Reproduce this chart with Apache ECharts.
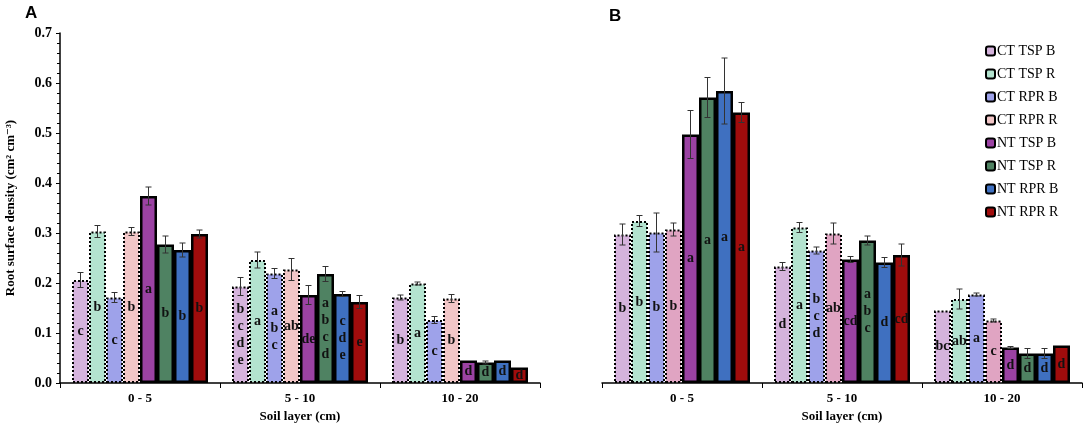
<!DOCTYPE html>
<html style="height:100%;">
<head>
    <meta charset="utf-8">
    <script src="https://cdn.jsdelivr.net/npm/echarts@6/dist/echarts.min.js"></script>
</head>
<body style="height:100%;margin:0;">
    <div id="main" style="width:1084px;height:428px;"></div>
<script>
    // categories and series names
    var layers = ['0 - 5', '5 - 10', '10 - 20'];
    var names = ['CT TSP B', 'CT TSP R', 'CT RPR B', 'CT RPR R', 'NT TSP B', 'NT TSP R', 'NT RPR B', 'NT RPR R'];
    var yTicks = ['0.0', '0.1', '0.2', '0.3', '0.4', '0.5', '0.6', '0.7'];

    // panel A: mean values, one row per treatment, one column per layer
    var valuesA = [
        [0.206, 0.193, 0.171],
        [0.303, 0.246, 0.199],
        [0.171, 0.219, 0.126],
        [0.303, 0.227, 0.169],
        [0.374, 0.176, 0.045],
        [0.277, 0.218, 0.041],
        [0.266, 0.178, 0.045],
        [0.298, 0.162, 0.031]
    ];
    var errorsA = [
        [0.015, 0.018, 0.005],
        [0.012, 0.016, 0.003],
        [0.010, 0.010, 0.007],
        [0.008, 0.022, 0.008],
        [0.018, 0.019, 0.000],
        [0.017, 0.015, 0.003],
        [0.014, 0.005, 0.000],
        [0.008, 0.013, 0.000]
    ];
    var lettersA = [
        ['c', 'b\nc\nd\ne', 'b'],
        ['b', 'a', 'a'],
        ['c', 'a\nb\nc', 'c'],
        ['b', 'ab', 'b'],
        ['a', 'de', 'd'],
        ['b', 'a\nb\nc\nd', 'd'],
        ['b', 'c\nd\ne', 'd'],
        ['b', 'e', 'd']
    ];

    // panel B
    var valuesB = [
        [0.297, 0.233, 0.145],
        [0.324, 0.311, 0.168],
        [0.301, 0.265, 0.177],
        [0.307, 0.299, 0.125],
        [0.497, 0.247, 0.071],
        [0.571, 0.285, 0.059],
        [0.584, 0.241, 0.059],
        [0.541, 0.256, 0.075]
    ];
    var errorsB = [
        [0.021, 0.008, 0.000],
        [0.011, 0.010, 0.020],
        [0.039, 0.007, 0.003],
        [0.013, 0.021, 0.003],
        [0.048, 0.006, 0.002],
        [0.040, 0.009, 0.010],
        [0.066, 0.010, 0.010],
        [0.020, 0.022, 0.000]
    ];
    var lettersB = [
        ['b', 'd', 'bc'],
        ['b', 'a', 'ab'],
        ['b', 'b\nc\nd', 'a'],
        ['b', 'ab', 'c'],
        ['a', 'cd', 'd'],
        ['a', 'a\nb\nc', 'd'],
        ['a', 'd', 'd'],
        ['a', 'cd', 'd']
    ];

    var colorsA = ['#d5b3dc', '#b3e3cf', '#9ea2ea', '#f2c6c7', '#9b42a3', '#4f8262', '#3f70c0', '#a00c0c'];
    var colorsB = ['#d5b3dc', '#b3e3cf', '#9ea2ea', '#e0a4c2', '#9b42a3', '#4f8262', '#3f70c0', '#a00c0c'];

    var serif = '"Liberation Serif", "DejaVu Serif", serif';
    var catGap = 0.15;

    function barSeries(axisIdx, values, letters, colors) {
        return names.map(function (n, s) {
            var ct = s < 4;
            return {
                name: n,
                type: 'bar',
                xAxisIndex: axisIdx,
                yAxisIndex: axisIdx,
                barGap: '0%',
                barCategoryGap: (catGap * 100) + '%',
                itemStyle: {
                    color: colors[s],
                    borderColor: '#000',
                    borderWidth: ct ? 2 : 2.5,
                    borderType: ct ? 'dotted' : 'solid'
                },
                label: {
                    show: true,
                    position: 'inside',
                    color: '#111',
                    fontFamily: serif,
                    fontWeight: 'bold',
                    fontSize: 14,
                    lineHeight: 17
                },
                data: values[s].map(function (v, c) {
                    return { value: v, label: { formatter: letters[s][c] } };
                }),
                z: 2
            };
        });
    }

    function errorSeries(axisIdx, values, errors) {
        var data = [];
        for (var s = 0; s < names.length; s++) {
            for (var c = 0; c < layers.length; c++) {
                data.push([c, values[s][c], errors[s][c], s]);
            }
        }
        return {
            type: 'custom',
            xAxisIndex: axisIdx,
            yAxisIndex: axisIdx,
            silent: true,
            z: 5,
            data: data,
            renderItem: function (params, api) {
                var c = api.value(0), v = api.value(1), e = api.value(2), s = api.value(3);
                if (!e) return;
                var catW = api.size([1, 0])[0];
                var bw = catW * (1 - catGap) / names.length;
                var center = api.coord([c, v]);
                var x = center[0] - catW * (1 - catGap) / 2 + bw * (s + 0.5);
                var yHi = api.coord([c, v + e])[1];
                var yLo = api.coord([c, v - e])[1];
                var st = { stroke: '#333', lineWidth: 1 };
                return {
                    type: 'group',
                    children: [
                        { type: 'line', shape: { x1: x, y1: yHi, x2: x, y2: yLo }, style: st },
                        { type: 'line', shape: { x1: x - 3, y1: yHi, x2: x + 3, y2: yHi }, style: st },
                        { type: 'line', shape: { x1: x - 3, y1: yLo, x2: x + 3, y2: yLo }, style: st }
                    ]
                };
            }
        };
    }

    function xAxis(gridIdx) {
        return {
            type: 'category',
            gridIndex: gridIdx,
            data: layers,
            name: 'Soil layer (cm)',
            nameLocation: 'middle',
            nameGap: 27,
            nameTextStyle: { fontFamily: serif, fontWeight: 'bold', fontSize: 13, color: '#000' },
            axisLine: { lineStyle: { color: '#000', width: 1.5 } },
            axisTick: { show: true, length: 5, lineStyle: { color: '#000' } },
            axisLabel: { fontFamily: serif, fontWeight: 'bold', fontSize: 13, color: '#000', margin: 9 }
        };
    }

    var option = {
        backgroundColor: '#fff',
        animation: false,
        title: [
            { text: 'A', left: 20, top: 0, textStyle: { fontFamily: 'Liberation Sans, Arial', fontWeight: 'bold', fontSize: 17, color: '#000' } },
            { text: 'B', left: 604, top: 3, textStyle: { fontFamily: 'Liberation Sans, Arial', fontWeight: 'bold', fontSize: 17, color: '#000' } }
        ],
        legend: {
            orient: 'vertical',
            left: 980,
            top: 39,
            itemWidth: 9,
            itemHeight: 9,
            itemGap: 9,
            data: names,
            textStyle: { fontFamily: serif, fontSize: 14, color: '#000', padding: [0, 0, 0, -3] }
        },
        grid: [
            { left: 60, right: 544, top: 33, bottom: 45 },
            { left: 602, right: 2, top: 33, bottom: 45 }
        ],
        xAxis: [xAxis(0), xAxis(1)],
        yAxis: [
            {
                type: 'value',
                gridIndex: 0,
                min: 0,
                max: 0.7,
                interval: 0.1,
                name: 'Root surface density (cm² cm⁻³)',
                nameLocation: 'middle',
                nameGap: 43,
                nameTextStyle: { fontFamily: serif, fontWeight: 'bold', fontSize: 13, color: '#000' },
                axisLine: { show: true, lineStyle: { color: '#000', width: 1.5 } },
                axisTick: { show: true, length: 4, lineStyle: { color: '#000' } },
                minorTick: { show: true, splitNumber: 5, length: 3, lineStyle: { color: '#000' } },
                splitLine: { show: false },
                axisLabel: {
                    fontFamily: serif, fontWeight: 'bold', fontSize: 14, color: '#000', margin: 8,
                    formatter: function (v) { return yTicks[Math.round(v * 10)]; }
                }
            },
            {
                type: 'value',
                gridIndex: 1,
                min: 0,
                max: 0.7,
                interval: 0.1,
                show: false,
                splitLine: { show: false }
            }
        ],
        series: []
            .concat(barSeries(0, valuesA, lettersA, colorsA))
            .concat([errorSeries(0, valuesA, errorsA)])
            .concat(barSeries(1, valuesB, lettersB, colorsB))
            .concat([errorSeries(1, valuesB, errorsB)])
    };

    var chart = echarts.init(document.getElementById('main'));
    chart.setOption(option);
</script>
</body>
</html>
